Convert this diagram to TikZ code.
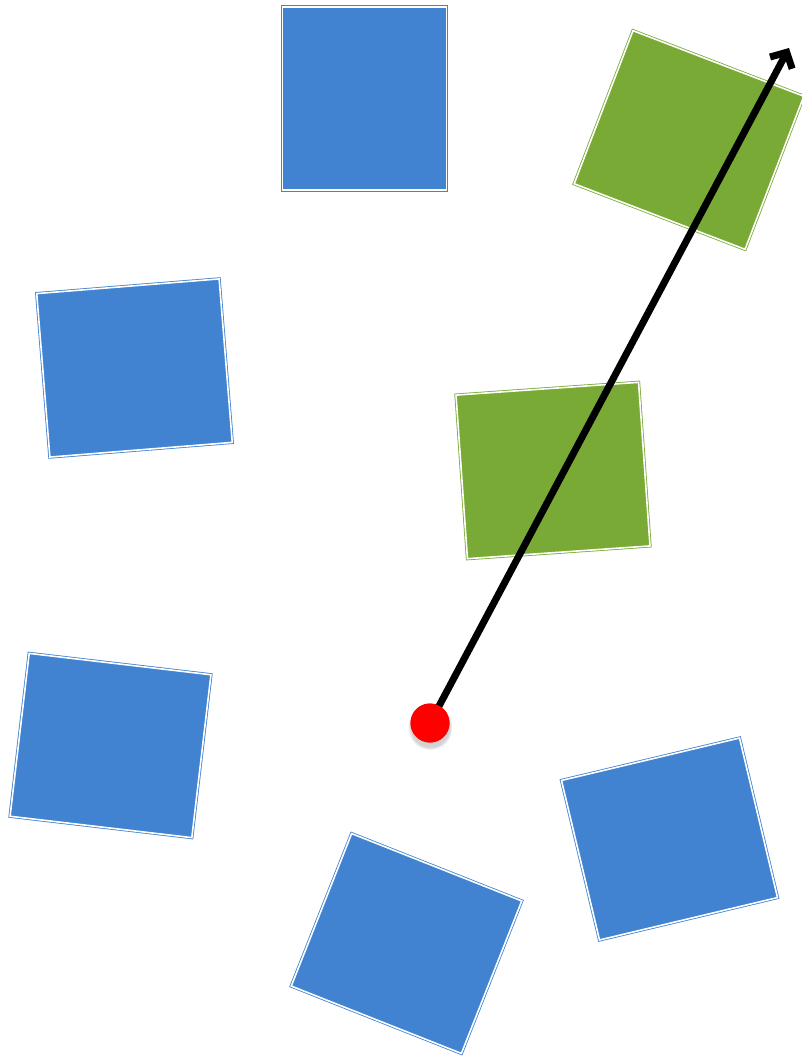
\documentclass[tikz,border=0pt]{standalone}
\usetikzlibrary{arrows.meta,shadows}
\definecolor{boxblue}{RGB}{65,131,208}
\definecolor{boxgreen}{RGB}{122,170,54}
\begin{document}
\begin{tikzpicture}[x = 1pt, y = -1pt]
        \useasboundingbox (0, 0) rectangle (802, 1057);
        \tikzset{box/.style = {rectangle, minimum width = 183pt, minimum height = 164pt, line width = 0.8pt, double = white, double distance = 1.6pt}}
        \foreach \x/\y/\a/\c [count = \i] in {364.5/98.5/90/boxblue, 689/140/-21/boxgreen, 134.5/368/4.6/boxblue, 553/470.5/4/boxgreen, 110.5/745.5/-6.7/boxblue, 406.5/943.5/-21.6/boxblue, 669.5/839/13.4/boxblue}{
            \node[box, draw = \c, fill = \c, rotate = \a] (s\i) at (\x, \y) {};
        }
        \coordinate (tip) at (789, 48);
        \node[circle, fill = red, minimum size = 39pt, inner sep = 0pt, circular drop shadow = {opacity = 0.35, shadow xshift = 0pt, shadow yshift = -4pt, shadow scale = 1.15}] (dot) at (430, 723) {};
        \draw[line width = 7pt, -{Straight Barb[length = 12pt, width = 25pt]}] (dot.center) -- (tip);
        \node[circle, fill = red, minimum size = 39pt, inner sep = 0pt] at (dot) {};
    \end{tikzpicture}
\end{document}
